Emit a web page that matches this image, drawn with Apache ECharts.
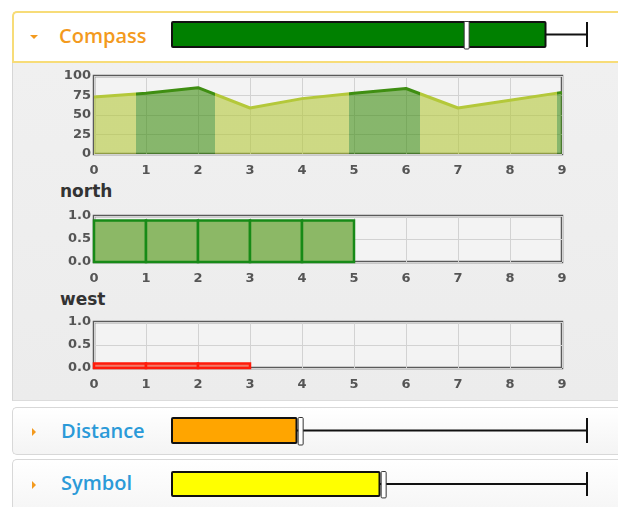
<!DOCTYPE html>
<html>
<head>
<meta charset="utf-8">
<script src="https://cdn.jsdelivr.net/npm/echarts@6/dist/echarts.min.js"></script>
<style>
  html, body { margin: 0; padding: 0; background: #fff; width: 618px; height: 507px; overflow: hidden; }
  .abs { position: absolute; box-sizing: border-box; }
  .head { font-family: 'Open Sans', sans-serif; font-size: 20px; font-weight: 600; line-height: 1; }
  .sub { font-family: 'DejaVu Sans', sans-serif; font-size: 17px; font-weight: bold; color: #333; line-height: 1; }
  #chart { position: absolute; left: 0; top: 0; width: 618px; height: 507px; z-index: 5; }
</style>
</head>
<body>
<!-- compass panel -->
<div class="abs" style="left:12px;top:11px;width:620px;height:52px;border:2px solid #f7dc78;border-right:none;border-radius:5px 0 0 0;background:#fff"></div>
<div class="abs" style="left:12px;top:63px;width:620px;height:338px;background:linear-gradient(#f0f0f0,#ececec);border-left:1px solid #d6d6d6;border-bottom:1px solid #dcdcdc"></div>
<div class="abs" style="left:30px;top:35px;width:0;height:0;border-left:4px solid transparent;border-right:4px solid transparent;border-top:4px solid #f39a1e"></div>
<div class="abs head" style="left:59px;top:26px;color:#f39a1e">Compass</div>
<div class="abs sub" style="left:60px;top:183px">north</div>
<div class="abs sub" style="left:60px;top:291px">west</div>
<!-- distance panel -->
<div class="abs" style="left:12px;top:407px;width:620px;height:48px;border:1px solid #d8d8d8;border-right:none;border-radius:5px 0 0 5px;background:linear-gradient(#fff,#f4f4f4)"></div>
<div class="abs" style="left:32px;top:428px;width:0;height:0;border-top:4px solid transparent;border-bottom:4px solid transparent;border-left:4px solid #f39a1e"></div>
<div class="abs head" style="left:61px;top:421px;color:#2b9ad8">Distance</div>
<!-- symbol panel -->
<div class="abs" style="left:12px;top:459px;width:620px;height:60px;border:1px solid #d8d8d8;border-right:none;border-radius:5px 0 0 0;background:linear-gradient(#fff,#f4f4f4)"></div>
<div class="abs" style="left:32px;top:481px;width:0;height:0;border-top:4px solid transparent;border-bottom:4px solid transparent;border-left:4px solid #f39a1e"></div>
<div class="abs head" style="left:61px;top:473px;color:#2b9ad8">Symbol</div>

<div id="chart"></div>
<script>
// compass line
const compassX = [0, 1, 2, 3, 4, 5, 6, 7, 8, 9]
const compassY = [73, 78, 85, 59, 71, 78, 84, 59, 69, 79]
const darkRanges = [[0.8, 2.33], [4.9, 6.27], [8.9, 9]]
// step bars, one per unit interval starting at 0
const northValues = [0.9, 0.9, 0.9, 0.9, 0.9]
const westValues = [0.1, 0.1, 0.1]
// bullets
const bulletNames = ['Compass', 'Distance', 'Symbol']
const bulletValues = [90, 30, 50]
const bulletMarkers = [71, 31, 51]
const bulletMax = [100, 100, 100]
const bulletColors = ['#008000', '#ffa500', '#ffff00']

const LIGHT = '#b4c83a'
const DARK = '#3f8e12'
const labelFont = { color: '#555', fontSize: 13, fontWeight: 'bold', fontFamily: 'DejaVu Sans' }

let chart = echarts.init(document.getElementById('chart'), null, { renderer: 'canvas' })

// bullet grids
let bulletTops = [22, 418, 472]
let bulletHeights = [25, 25, 24]

let grids = []
let xAxes = []
let yAxes = []
let series = []

bulletNames.forEach((name, i) => {
  grids.push({ left: 172, width: 415, top: bulletTops[i], height: bulletHeights[i] })
  xAxes.push({ type: 'value', gridIndex: grids.length - 1, min: 0, max: bulletMax[i], show: false })
  yAxes.push({ type: 'value', gridIndex: grids.length - 1, min: 0, max: 1, show: false })
  series.push({
    name: name,
    type: 'custom',
    xAxisIndex: grids.length - 1,
    yAxisIndex: grids.length - 1,
    clip: false,
    data: [[bulletValues[i], bulletMarkers[i], bulletMax[i]]],
    renderItem: (params, api) => {
      let v = api.value(0), m = api.value(1), mx = api.value(2)
      let a = api.coord([0, 1]), b = api.coord([v, 0])
      let mid = api.coord([v, 0.5]), end = api.coord([mx, 0.5])
      let t0 = api.coord([mx, 1]), t1 = api.coord([mx, 0])
      let mk0 = api.coord([m, 1.02]), mk1 = api.coord([m, -0.08])
      return {
        type: 'group',
        children: [
          { type: 'line', shape: { x1: mid[0], y1: mid[1], x2: end[0], y2: end[1] }, style: { stroke: '#111', lineWidth: 2 } },
          { type: 'line', shape: { x1: t0[0], y1: t0[1], x2: t1[0], y2: t1[1] }, style: { stroke: '#111', lineWidth: 2 } },
          { type: 'rect', shape: { x: a[0], y: a[1], width: b[0] - a[0], height: b[1] - a[1], r: 1 }, style: { fill: bulletColors[i], stroke: '#111', lineWidth: 2 } },
          { type: 'rect', shape: { x: mk0[0] - 2.5, y: mk0[1], width: 5, height: mk1[1] - mk0[1], r: 1 }, style: { fill: '#fff', stroke: '#333', lineWidth: 1 } }
        ]
      }
    }
  })
})

// the three small charts
let plotTops = [76, 216, 322]
let plotHeights = [78, 46, 46]
plotTops.forEach((top, k) => {
  grids.push({ left: 94, right: 56, top: top, height: plotHeights[k], show: true, backgroundColor: '#f3f3f3', borderColor: '#5a5a5a', borderWidth: 2.5 })
  let gi = grids.length - 1
  xAxes.push({
    type: 'value', gridIndex: gi, min: 0, max: 9, interval: 1,
    axisLine: { show: false }, axisTick: { show: false },
    axisLabel: Object.assign({ margin: 10 }, labelFont),
    splitLine: { lineStyle: { color: '#d2d2d2' } }
  })
  yAxes.push(k === 0 ? {
    type: 'value', gridIndex: gi, min: 0, max: 100, interval: 25,
    axisLine: { show: false }, axisTick: { show: false },
    axisLabel: Object.assign({ margin: 3 }, labelFont),
    splitLine: { lineStyle: { color: '#d2d2d2' } }
  } : {
    type: 'value', gridIndex: gi, min: 0, max: 1, interval: 0.5,
    axisLine: { show: false }, axisTick: { show: false },
    axisLabel: Object.assign({ margin: 3, formatter: v => v.toFixed(1) }, labelFont),
    splitLine: { lineStyle: { color: '#d2d2d2' } }
  })
})

let lineIndex = series.length
series.push({
  name: 'compass',
  type: 'line',
  xAxisIndex: 3,
  yAxisIndex: 3,
  symbol: 'none',
  lineStyle: { width: 3 },
  areaStyle: { opacity: 0.6 },
  data: compassX.map((x, i) => [x, compassY[i]])
})

let stepBars = (values, gi, fill, stroke) => ({
  type: 'custom',
  xAxisIndex: gi,
  yAxisIndex: gi,
  data: values.map((v, i) => [i, v]),
  renderItem: (params, api) => {
    let x = api.value(0), v = api.value(1)
    let p0 = api.coord([x, v]), p1 = api.coord([x + 1, 0])
    return {
      type: 'rect',
      shape: { x: p0[0], y: p0[1], width: p1[0] - p0[0], height: p1[1] - p0[1] },
      style: { fill: fill, stroke: stroke, lineWidth: 2.5 }
    }
  }
})
series.push(stepBars(northValues, 4, '#8cb866', '#178a17'))
series.push(stepBars(westValues, 5, '#f07a68', '#ff1a0a'))

chart.setOption({
  animation: false,
  backgroundColor: 'transparent',
  grid: grids,
  xAxis: xAxes,
  yAxis: yAxes,
  visualMap: {
    type: 'piecewise',
    show: false,
    seriesIndex: lineIndex,
    dimension: 0,
    pieces: darkRanges.map(r => ({ gte: r[0], lte: r[1], color: DARK })),
    outOfRange: { color: LIGHT }
  },
  series: series
})
</script>
</body>
</html>
